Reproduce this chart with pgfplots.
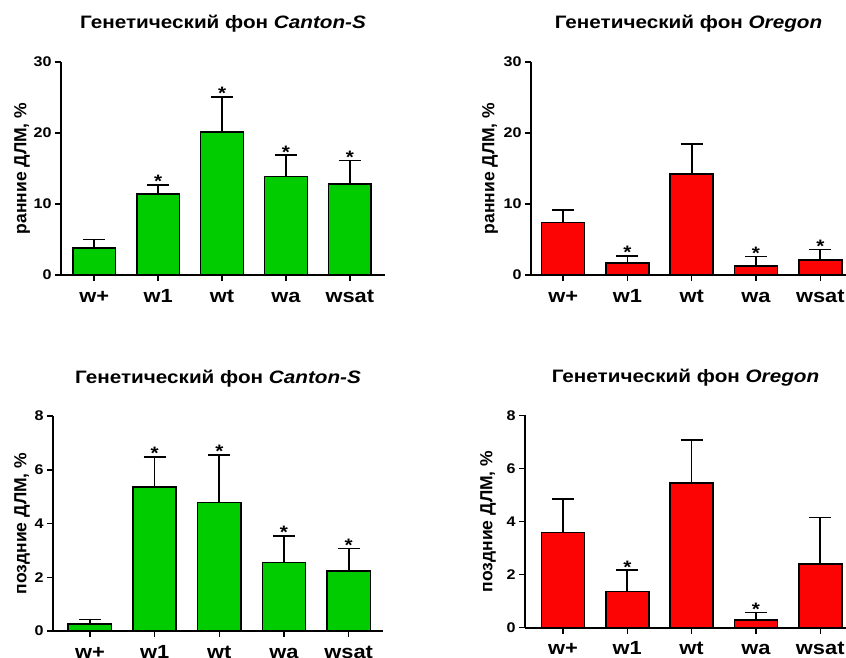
\documentclass[border=0pt]{standalone}
\usepackage{pgfplots}
\pgfplotsset{compat=1.18}
\usepackage{pgfplotstable}
\usepackage{fontspec}
\setmainfont{Liberation Sans}[FakeStretch=1.15]
\newfontfamily\ylfont{Liberation Sans}
\definecolor{cgreen}{RGB}{0,204,0}
\definecolor{cred}{RGB}{252,4,4}

\pgfplotstableread{
x y err
0 3.8 1.2
1 11.4 1.3
2 20.1 5.0
3 13.9 3.0
4 12.8 3.3
}\tlData
\pgfplotstableread{
x y err
0 7.4 1.75
1 1.65 1.05
2 14.2 4.25
3 1.3 1.3
4 2.15 1.45
}\trData
\pgfplotstableread{
x y err
0 0.25 0.18
1 5.36 1.12
2 4.78 1.77
3 2.55 0.99
4 2.24 0.83
}\blData
\pgfplotstableread{
x y err
0 3.59 1.26
1 1.36 0.81
2 5.44 1.63
3 0.29 0.28
4 2.40 1.75
}\brData

\pgfplotsset{
  panel/.style={
    scale only axis,
    anchor=south west,
    axis x line*=bottom,
    axis y line*=left,
    axis line style={line width=1.8pt},
    every tick/.style={black, line width=1.5pt},
    tick align=outside,
    major tick length=6pt,
    xtick={0,1,2,3,4},
    xticklabels={w+,w1,wt,wa,wsat},
    ymin=0,
    clip=false,
    /pgf/number format/assume math mode=true,
    xticklabel style={font=\fontsize{19}{21}\selectfont\bfseries, anchor=base, yshift=-21pt},
    yticklabel style={font=\fontsize{14}{16}\selectfont\bfseries},
    ylabel style={font=\ylfont\fontsize{17.5}{19}\selectfont\bfseries, anchor=center},
    title style={font=\fontsize{18}{20}\selectfont\bfseries, at={(0.5,1)}, anchor=base, yshift=27pt},
  },
  bars/.style={ybar, bar width=0.67, fill=#1, draw=black, line width=1.6pt,
    error bars/y dir=plus, error bars/y explicit,
    /pgfplots/error bars/error mark=-,
    /pgfplots/error bars/error bar style={line width=1.6pt, draw=black},
    /pgfplots/error bars/error mark options={rotate=90, mark size=11pt, line width=1.6pt, draw=black}},
  stars/.style={only marks, mark=none, nodes near coords={*},
    every node near coord/.append style={font=\fontsize{18}{18}\selectfont\bfseries, anchor=base, yshift=-3pt, inner sep=0pt}},
}

\begin{document}
\begin{tikzpicture}
\useasboundingbox (0pt,0pt) rectangle (846pt,657pt);

% top left
\begin{axis}[panel, at={(61pt,382pt)}, width=324pt, height=213pt,
  xmin=-0.52, xmax=4.55, ymax=30, ytick={0,10,20,30},
  title={Генетический фон \textit{Canton-S}},
  ylabel={ранние ДЛМ, \%},
  ylabel style={at={(axis description cs:-0.12,0.5)}}]
\addplot[bars=cgreen] table[x=x, y=y, y error=err] {\tlData};
\addplot[stars] coordinates {(1,12.7) (2,25.1) (3,16.9) (4,16.1)};
\end{axis}

% top right
\begin{axis}[panel, at={(531pt,382pt)}, width=315pt, height=213pt,
  xmin=-0.5, xmax=4.4, ymax=30, ytick={0,10,20,30},
  title={Генетический фон \textit{Oregon}},
  ylabel={ранние ДЛМ, \%},
  ylabel style={at={(axis description cs:-0.13,0.5)}}]
\addplot[bars=cred] table[x=x, y=y, y error=err] {\trData};
\addplot[stars] coordinates {(1,2.7) (3,2.6) (4,3.6)};
\end{axis}

% bottom left
\begin{axis}[panel, at={(53pt,26pt)}, width=330pt, height=215pt,
  xmin=-0.57, xmax=4.53, ymax=8, ytick={0,2,4,6,8},
  title={Генетический фон \textit{Canton-S}},
  ylabel={поздние ДЛМ, \%},
  ylabel style={at={(axis description cs:-0.094,0.5)}}]
\addplot[bars=cgreen] table[x=x, y=y, y error=err] {\blData};
\addplot[stars] coordinates {(1,6.48) (2,6.55) (3,3.54) (4,3.07)};
\end{axis}

% bottom right
\begin{axis}[panel, at={(525pt,29.3pt)}, width=321pt, height=212.4pt,
  xmin=-0.59, xmax=4.4, ymax=8, ytick={0,2,4,6,8},
  title={Генетический фон \textit{Oregon}},
  ylabel={поздние ДЛМ, \%},
  ylabel style={at={(axis description cs:-0.115,0.5)}}]
\addplot[bars=cred] table[x=x, y=y, y error=err] {\brData};
\addplot[stars] coordinates {(1,2.17) (3,0.57)};
\end{axis}
\end{tikzpicture}
\end{document}
